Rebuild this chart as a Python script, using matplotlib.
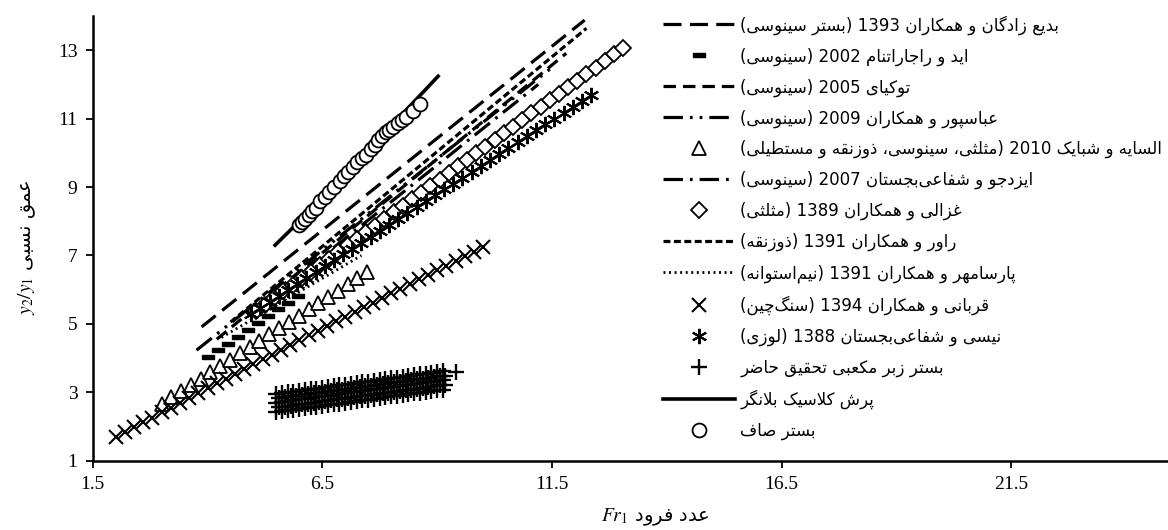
import matplotlib
matplotlib.use('Agg')
import matplotlib.pyplot as plt

plt.rcParams['font.family'] = ['DejaVu Sans']
plt.rcParams['mathtext.fontset'] = 'stix'
plt.rcParams['lines.scale_dashes'] = False

# ---- data ----
belanger_x = [5.47, 6.0, 6.5, 7.0, 7.5, 8.0, 8.5, 9.02]
belanger_y = [7.30, 8.0, 8.7, 9.4, 10.1, 10.8, 11.5, 12.24]

smooth_x = [6.00, 6.06, 6.12, 6.20, 6.28, 6.36, 6.45, 6.55, 6.65, 6.76, 6.88, 6.97, 7.06, 7.16, 7.26,
            7.36, 7.46, 7.55, 7.64, 7.72, 7.80, 7.88, 7.96, 8.04, 8.14, 8.24, 8.33, 8.47, 8.62]
smooth_y = [7.90, 7.98, 8.07, 8.18, 8.29, 8.40, 8.58, 8.71, 8.85, 9.00, 9.18, 9.31, 9.45, 9.60, 9.74,
            9.86, 9.95, 10.10, 10.24, 10.38, 10.50, 10.60, 10.68, 10.76, 10.86, 10.96, 11.05, 11.22, 11.44]

ghazali_x = [5.05, 5.25, 5.45, 5.65, 5.85, 6.05, 6.25, 6.45, 6.65, 6.85, 7.05, 7.25, 7.45, 7.65, 7.85,
             8.05, 8.25, 8.45, 8.65, 8.85, 9.05, 9.25, 9.45, 9.65, 9.85, 10.05, 10.25, 10.45, 10.65,
             10.85, 11.05, 11.25, 11.45, 11.65, 11.85, 12.05, 12.25, 12.45, 12.65, 12.85, 13.05]
ghazali_y = [5.37, 5.56, 5.76, 5.95, 6.14, 6.33, 6.53, 6.72, 6.91, 7.10, 7.30, 7.49, 7.68, 7.87, 8.07,
             8.26, 8.45, 8.64, 8.84, 9.03, 9.22, 9.41, 9.61, 9.80, 9.99, 10.18, 10.38, 10.57, 10.76,
             10.95, 11.15, 11.34, 11.53, 11.72, 11.92, 12.11, 12.30, 12.49, 12.69, 12.88, 13.07]

neisi_x = [4.95, 5.15, 5.35, 5.55, 5.75, 5.95, 6.15, 6.35, 6.55, 6.75, 6.95, 7.15, 7.35, 7.55, 7.75,
           7.95, 8.15, 8.35, 8.55, 8.75, 8.95, 9.15, 9.35, 9.55, 9.75, 9.95, 10.15, 10.35, 10.55,
           10.75, 10.95, 11.15, 11.35, 11.55, 11.75, 11.95, 12.15, 12.35]
neisi_y = [5.30, 5.47, 5.65, 5.82, 5.99, 6.16, 6.34, 6.51, 6.68, 6.86, 7.03, 7.20, 7.37, 7.55, 7.72,
           7.89, 8.06, 8.24, 8.41, 8.58, 8.76, 8.93, 9.10, 9.27, 9.45, 9.62, 9.79, 9.96, 10.14,
           10.31, 10.48, 10.66, 10.83, 11.00, 11.17, 11.35, 11.52, 11.69]

elsayeh_x = [3.00, 3.21, 3.42, 3.64, 3.85, 4.06, 4.28, 4.49, 4.70, 4.92, 5.13, 5.34, 5.56, 5.77, 5.98,
             6.20, 6.41, 6.62, 6.83, 7.05, 7.26, 7.47]
elsayeh_y = [2.67, 2.85, 3.04, 3.22, 3.40, 3.59, 3.77, 3.95, 4.14, 4.32, 4.51, 4.69, 4.87, 5.06, 5.24,
             5.42, 5.61, 5.79, 5.97, 6.16, 6.34, 6.52]

ghorbani_x = [2.0, 2.2, 2.4, 2.6, 2.8, 3.0, 3.2, 3.4, 3.6, 3.8, 4.0, 4.2, 4.4, 4.6, 4.8, 5.0, 5.2, 5.4,
              5.6, 5.8, 6.0, 6.2, 6.4, 6.6, 6.8, 7.0, 7.2, 7.4, 7.6, 7.8, 8.0, 8.2, 8.4, 8.6, 8.8,
              9.0, 9.2, 9.4, 9.6, 9.8, 10.0]
ghorbani_y = [1.69, 1.83, 1.98, 2.12, 2.26, 2.41, 2.55, 2.69, 2.83, 2.98, 3.12, 3.26, 3.40, 3.54, 3.68,
              3.82, 3.96, 4.10, 4.24, 4.38, 4.52, 4.66, 4.79, 4.93, 5.07, 5.21, 5.34, 5.48, 5.62,
              5.76, 5.89, 6.03, 6.16, 6.30, 6.43, 6.57, 6.70, 6.84, 6.97, 7.11, 7.24]

eid_x = [4.02, 4.23, 4.45, 4.67, 4.88, 5.10, 5.32, 5.53, 5.75, 5.96]
eid_y = [4.03, 4.23, 4.42, 4.62, 4.82, 5.02, 5.22, 5.42, 5.62, 5.82]

# present study, rough bed: five rows of runs
study_xa = [5.50, 5.62, 5.75, 5.87, 6.00, 6.12, 6.25, 6.37, 6.50, 6.62, 6.75, 6.87, 7.00, 7.12, 7.25,
            7.37, 7.50, 7.62, 7.75, 7.87, 8.00, 8.12, 8.25, 8.37, 8.50, 8.62, 8.75, 8.87, 9.00, 9.12]
study_xb = [5.56, 5.68, 5.81, 5.93, 6.06, 6.18, 6.31, 6.43, 6.56, 6.68, 6.81, 6.93, 7.06, 7.18, 7.31,
            7.43, 7.56, 7.68, 7.81, 7.93, 8.06, 8.18, 8.31, 8.43, 8.56, 8.68, 8.81, 8.93, 9.06, 9.18]
study_x5 = [5.50, 5.62, 5.75, 5.87, 6.00, 6.12, 6.25, 6.37, 6.50, 6.62, 6.75, 6.87, 7.00, 7.12, 7.25,
            7.37, 7.50, 7.62, 7.75, 7.87, 8.00, 8.12, 8.25, 8.37, 8.50, 8.62, 8.75, 8.87, 9.00, 9.12,
            9.40]
study_y1 = [2.42, 2.44, 2.47, 2.49, 2.51, 2.53, 2.56, 2.58, 2.60, 2.62, 2.65, 2.67, 2.69, 2.72, 2.74,
            2.76, 2.78, 2.81, 2.83, 2.85, 2.88, 2.90, 2.92, 2.94, 2.97, 2.99, 3.01, 3.03, 3.06, 3.08]
study_y2 = [2.56, 2.58, 2.61, 2.63, 2.65, 2.67, 2.70, 2.72, 2.74, 2.76, 2.79, 2.81, 2.83, 2.86, 2.88,
            2.90, 2.92, 2.95, 2.97, 2.99, 3.02, 3.04, 3.06, 3.08, 3.11, 3.13, 3.15, 3.17, 3.20, 3.22]
study_y3 = [2.70, 2.72, 2.75, 2.77, 2.79, 2.81, 2.84, 2.86, 2.88, 2.90, 2.93, 2.95, 2.97, 3.00, 3.02,
            3.04, 3.06, 3.09, 3.11, 3.13, 3.16, 3.18, 3.20, 3.22, 3.25, 3.27, 3.29, 3.31, 3.34, 3.36]
study_y4 = [2.83, 2.85, 2.88, 2.90, 2.92, 2.94, 2.97, 2.99, 3.01, 3.03, 3.06, 3.08, 3.10, 3.13, 3.15,
            3.17, 3.19, 3.22, 3.24, 3.26, 3.29, 3.31, 3.33, 3.35, 3.38, 3.40, 3.42, 3.44, 3.47, 3.49]
study_y5 = [2.95, 2.97, 3.00, 3.02, 3.04, 3.06, 3.09, 3.11, 3.13, 3.15, 3.18, 3.20, 3.22, 3.25, 3.27,
            3.29, 3.31, 3.34, 3.36, 3.38, 3.41, 3.43, 3.45, 3.47, 3.50, 3.52, 3.54, 3.56, 3.59, 3.61,
            3.60]

badie_x, badie_y = [3.87, 12.21], [4.91, 13.88]
ravar_x, ravar_y = [4.50, 12.25], [5.05, 13.64]
tokyay_x, tokyay_y = [4.20, 11.81], [4.55, 12.91]
abbaspour_x, abbaspour_y = [3.76, 11.55], [4.23, 12.55]
izadjoo_x, izadjoo_y = [4.90, 11.20], [5.25, 12.00]
parsa_x, parsa_y = [4.30, 7.35], [4.60, 7.00]

x_ticks = [1.5, 6.5, 11.5, 16.5, 21.5]
y_ticks = [1, 3, 5, 7, 9, 11, 13]

# ---- persian text: join letters and put in visual order ----
FORMS = {
    'ا': ('\uFE8D', '\uFE8E', None, None),
    'ب': ('\uFE8F', '\uFE90', '\uFE91', '\uFE92'),
    'پ': ('\uFB56', '\uFB57', '\uFB58', '\uFB59'),
    'ت': ('\uFE95', '\uFE96', '\uFE97', '\uFE98'),
    'ث': ('\uFE99', '\uFE9A', '\uFE9B', '\uFE9C'),
    'ج': ('\uFE9D', '\uFE9E', '\uFE9F', '\uFEA0'),
    'چ': ('\uFB7A', '\uFB7B', '\uFB7C', '\uFB7D'),
    'ح': ('\uFEA1', '\uFEA2', '\uFEA3', '\uFEA4'),
    'د': ('\uFEA9', '\uFEAA', None, None),
    'ذ': ('\uFEAB', '\uFEAC', None, None),
    'ر': ('\uFEAD', '\uFEAE', None, None),
    'ز': ('\uFEAF', '\uFEB0', None, None),
    'س': ('\uFEB1', '\uFEB2', '\uFEB3', '\uFEB4'),
    'ش': ('\uFEB5', '\uFEB6', '\uFEB7', '\uFEB8'),
    'ص': ('\uFEB9', '\uFEBA', '\uFEBB', '\uFEBC'),
    'ض': ('\uFEBD', '\uFEBE', '\uFEBF', '\uFEC0'),
    'ط': ('\uFEC1', '\uFEC2', '\uFEC3', '\uFEC4'),
    'ع': ('\uFEC9', '\uFECA', '\uFECB', '\uFECC'),
    'غ': ('\uFECD', '\uFECE', '\uFECF', '\uFED0'),
    'ف': ('\uFED1', '\uFED2', '\uFED3', '\uFED4'),
    'ق': ('\uFED5', '\uFED6', '\uFED7', '\uFED8'),
    'ک': ('\uFB8E', '\uFB8F', '\uFB90', '\uFB91'),
    'گ': ('\uFB92', '\uFB93', '\uFB94', '\uFB95'),
    'ل': ('\uFEDD', '\uFEDE', '\uFEDF', '\uFEE0'),
    'م': ('\uFEE1', '\uFEE2', '\uFEE3', '\uFEE4'),
    'ن': ('\uFEE5', '\uFEE6', '\uFEE7', '\uFEE8'),
    'و': ('\uFEED', '\uFEEE', None, None),
    'ه': ('\uFEE9', '\uFEEA', '\uFEEB', '\uFEEC'),
    'ی': ('\uFBFC', '\uFBFD', '\uFBFE', '\uFBFF'),
}


def shape(text):
    out = []
    i = 0
    n = len(text)
    while i < n:
        c = text[i]
        if c not in FORMS:
            if c != '\u200c':
                out.append(c)
            i += 1
            continue
        prev = text[i - 1] if i > 0 else None
        link_prev = prev in FORMS and FORMS[prev][2] is not None
        if c == 'ل' and i + 1 < n and text[i + 1] == 'ا':
            out.append('\uFEFC' if link_prev else '\uFEFB')
            i += 2
            continue
        nxt = text[i + 1] if i + 1 < n else None
        link_next = FORMS[c][2] is not None and nxt in FORMS
        iso, fin, ini, med = FORMS[c]
        if link_prev and link_next:
            out.append(med)
        elif link_prev:
            out.append(fin)
        elif link_next:
            out.append(ini)
        else:
            out.append(iso)
        i += 1
    return out


def fa(text):
    s = shape(text)[::-1]
    res = []
    run = []
    for ch in s:
        if ch.isdigit() or (ch.isascii() and ch.isalpha()) or (run and ch == '.'):
            run.append(ch)
        else:
            if run:
                res.extend(run[::-1])
                run = []
            res.append({'(': ')', ')': '('}.get(ch, ch))
    if run:
        res.extend(run[::-1])
    return ''.join(res)


labels = [
    'بدیع زادگان و همکاران 1393 (بستر سینوسی)',
    'اید و راجاراتنام 2002 (سینوسی)',
    'توکیای 2005 (سینوسی)',
    'عباسپور و همکاران 2009 (سینوسی)',
    'السایه و شبایک 2010 (مثلثی، سینوسی، ذوزنقه و مستطیلی)',
    'ایزدجو و شفاعی\u200cبجستان 2007 (سینوسی)',
    'غزالی و همکاران 1389 (مثلثی)',
    'راور و همکاران 1391 (ذوزنقه)',
    'پارسامهر و همکاران 1391 (نیم\u200cاستوانه)',
    'قربانی و همکاران 1394 (سنگ\u200cچین)',
    'نیسی و شفاعی\u200cبجستان 1388 (لوزی)',
    'بستر زبر مکعبی تحقیق حاضر',
    'پرش کلاسیک بلانگر',
    'بستر صاف',
]
labels = [fa(t) for t in labels]

fig = plt.figure(figsize=(11.68, 5.30), dpi=100)
ax = fig.add_axes([0.0794, 0.1308, 0.9831, 0.8390])

lw = 2.3
bar_marker = [(-1, -0.38), (1, -0.38), (1, 0.38), (-1, 0.38), (-1, -0.38)]
open_kw = dict(linestyle='none', markerfacecolor='white', markeredgecolor='black', markeredgewidth=1.3)

h = []
h.append(ax.plot(badie_x, badie_y, color='black', lw=lw, dashes=(13, 6), label=labels[0])[0])
h.append(ax.plot(eid_x, eid_y, linestyle='none', marker=bar_marker, markersize=8,
                 color='black', label=labels[1])[0])
h.append(ax.plot(tokyay_x, tokyay_y, color='black', lw=lw, dashes=(9, 5), label=labels[2])[0])
h.append(ax.plot(abbaspour_x, abbaspour_y, color='black', lw=lw,
                 dashes=(14, 5, 2, 5, 2, 5), label=labels[3])[0])
h.append(ax.plot(elsayeh_x, elsayeh_y, marker='^', markersize=10, label=labels[4], **open_kw)[0])
h.append(ax.plot(izadjoo_x, izadjoo_y, color='black', lw=lw, dashes=(14, 5, 2, 5), label=labels[5])[0])
h.append(ax.plot(ghazali_x, ghazali_y, marker='D', markersize=8, label=labels[6], **open_kw)[0])
h.append(ax.plot(ravar_x, ravar_y, color='black', lw=lw, dashes=(5, 2.5), label=labels[7])[0])
h.append(ax.plot(parsa_x, parsa_y, color='black', lw=2.0, dashes=(1.4, 2.6), label=labels[8])[0])
h.append(ax.plot(ghorbani_x, ghorbani_y, linestyle='none', marker='x', markersize=10,
                 markeredgewidth=1.5, color='black', label=labels[9])[0])
h.append(ax.plot(neisi_x, neisi_y, linestyle='none', marker=(6, 2, 0), markersize=11,
                 markeredgewidth=1.5, color='black', label=labels[10])[0])
study_rows = [(study_xa, study_y1), (study_xb, study_y2), (study_xa, study_y3),
              (study_xb, study_y4), (study_x5, study_y5)]
study = None
for sx, sy in study_rows:
    ln = ax.plot(sx, sy, linestyle='none', marker='+', markersize=12, markeredgewidth=1.7,
                 color='black')[0]
    if study is None:
        study = ln
study.set_label(labels[11])
h.append(study)
h.append(ax.plot(belanger_x, belanger_y, color='black', lw=2.6, label=labels[12])[0])
h.append(ax.plot(smooth_x, smooth_y, marker='o', markersize=10, label=labels[13], **open_kw)[0])

ax.set_xlim(1.5, 26.5)
ax.set_ylim(1, 14)
ax.set_xticks(x_ticks)
ax.set_yticks(y_ticks)
ax.set_xticklabels([str(t) for t in x_ticks])
ax.set_yticklabels([str(t) for t in y_ticks])
for s in ['top', 'right']:
    ax.spines[s].set_visible(False)
for s in ['left', 'bottom']:
    ax.spines[s].set_linewidth(1.8)
ax.tick_params(direction='out', length=5, width=1.3, labelsize=14, pad=6,
               labelfontfamily='Liberation Serif')

ax.set_xlabel('$Fr_1$ ' + fa('عدد فرود'), fontsize=14)
ax.xaxis.set_label_coords(0.49, -0.104)
ax.set_ylabel('$y_2/y_1$ ' + fa('عمق نسبی'), fontsize=14)
ax.yaxis.set_label_coords(-0.048, 0.48)

ax.legend(handles=h, loc='upper left', bbox_to_anchor=(663 / 1168, 1 - 15 / 530),
          bbox_transform=fig.transFigure, frameon=False, fontsize=12, borderpad=0,
          borderaxespad=0, handlelength=4.3, handletextpad=0.35, labelspacing=0.76,
          numpoints=1)

fig.savefig('out.png', dpi=100, facecolor='white')
